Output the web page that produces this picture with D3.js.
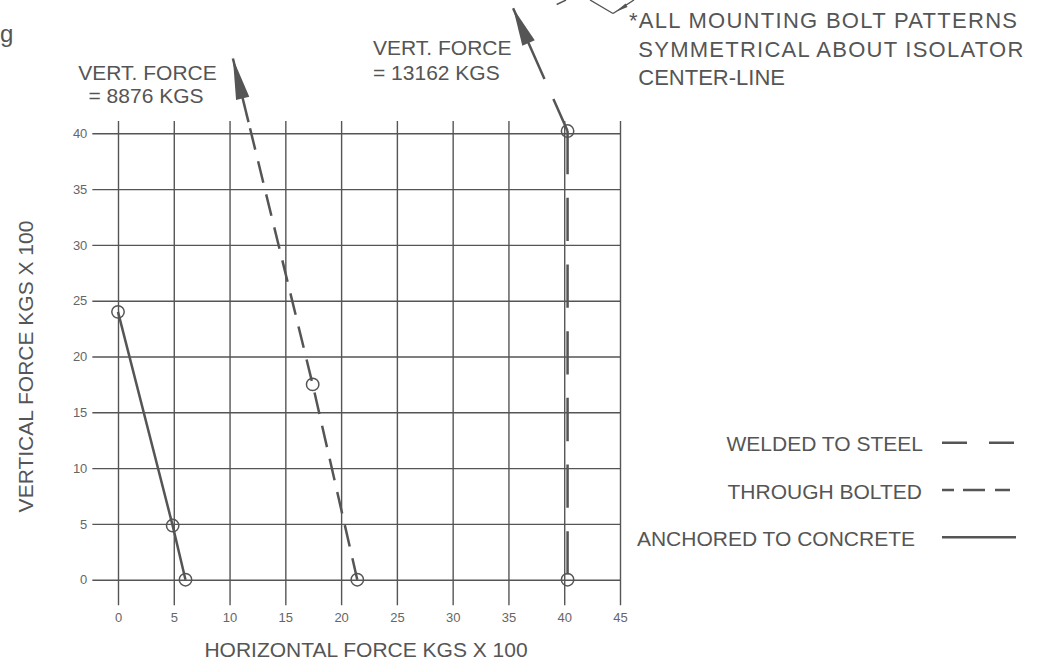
<!DOCTYPE html>
<html>
<head>
<meta charset="utf-8">
<script src="https://cdn.jsdelivr.net/npm/d3@7"></script>
<style>
  html, body { margin: 0; padding: 0; background: #fff; }
  svg { display: block; }
  text { font-family: "Liberation Sans", Arial, Helvetica, sans-serif; fill: #555; }
</style>
</head>
<body>
<svg id="chart" width="1040" height="660"></svg>
<script>
// ---- data ----
const xTicks = [0, 5, 10, 15, 20, 25, 30, 35, 40, 45];
const yTicks = [0, 5, 10, 15, 20, 25, 30, 35, 40];

// Anchored to concrete (solid)
const concreteX = [0, 4.9, 6.05];
const concreteY = [24, 4.85, 0];
// Through bolted (short dashes)
const boltedX = [21.45, 17.45];
const boltedY = [0, 17.5];
const boltedArrowStart = [11.7, 41.0];
const boltedArrowTip = [10.3, 46.7];
// Welded to steel (long dashes)
const weldedX = [40.3, 40.3];
const weldedY = [40.2, 0];
const weldedArrowTip = [35.42, 51.2];

const legendLabels = ["WELDED TO STEEL", "THROUGH BOLTED", "ANCHORED TO CONCRETE"];
const forceLabelsLeft = ["VERT. FORCE", "= 8876 KGS"];
const forceLabelsRight = ["VERT. FORCE", "= 13162 KGS"];
const noteLines = ["*ALL MOUNTING BOLT PATTERNS", "SYMMETRICAL ABOUT ISOLATOR", "CENTER-LINE"];

// ---- drawing ----
const svg = d3.select("#chart");
const ink = "#555";

const x = d3.scaleLinear().domain([0, 45]).range([118, 620]);
const y = d3.scaleLinear().domain([0, 40]).range([579.7, 133.3]);

const gridTop = y(41.1), gridBottom = y(-2.28), gridLeft = x(-2.3);

// horizontal grid + y labels
const yAxis = d3.axisLeft(y).tickValues(yTicks).tickSize(x(45) - gridLeft).tickPadding(5);
const gy = svg.append("g").attr("transform", `translate(${x(45)},0)`).call(yAxis);
gy.select(".domain").remove();
gy.selectAll("line").attr("stroke", ink).attr("stroke-width", 1.4);
gy.selectAll("text").style("font-size", "13px").style("fill", "#666").style("font-family", "Liberation Sans, Arial, sans-serif");

// vertical grid + x labels
const xAxis = d3.axisBottom(x).tickValues(xTicks).tickSizeInner(-(gridBottom - gridTop)).tickSizeOuter(0).tickPadding(7.5);
const gx = svg.append("g").attr("transform", `translate(0,${gridBottom})`).call(xAxis);
gx.select(".domain").remove();
gx.selectAll("line").attr("stroke", ink).attr("stroke-width", 1.4);
gx.selectAll("text").style("font-size", "13px").style("fill", "#666").style("font-family", "Liberation Sans, Arial, sans-serif");

const line = d3.line().x(d => x(d[0])).y(d => y(d[1]));

// Anchored to concrete
const concretePts = concreteX.map((v, i) => [v, concreteY[i]]);
svg.append("path").attr("d", line(concretePts)).attr("fill", "none")
  .attr("stroke", ink).attr("stroke-width", 2.5);

// Through bolted
const boltedPts = boltedX.map((v, i) => [v, boltedY[i]]).concat([boltedArrowStart]);
svg.append("path").attr("d", line(boltedPts)).attr("fill", "none")
  .attr("stroke", ink).attr("stroke-width", 2.5).attr("stroke-dasharray", "22,12");
svg.append("path").attr("d", line([boltedArrowStart, boltedArrowTip])).attr("fill", "none")
  .attr("stroke", ink).attr("stroke-width", 2.5);

// Welded to steel
const weldedPts = weldedX.map((v, i) => [v, weldedY[i]]);
svg.append("path").attr("d", line(weldedPts)).attr("fill", "none")
  .attr("stroke", ink).attr("stroke-width", 2.5).attr("stroke-dasharray", "43.3,23.4");
svg.append("path").attr("d", line([weldedPts[0], weldedArrowTip])).attr("fill", "none")
  .attr("stroke", ink).attr("stroke-width", 2.5).attr("stroke-dasharray", "35,22,1000");

// arrow heads
function arrowHead(from, tip, len, half) {
  const x1 = x(from[0]), y1 = y(from[1]), x2 = x(tip[0]), y2 = y(tip[1]);
  const dx = x2 - x1, dy = y2 - y1, L = Math.hypot(dx, dy);
  const ux = dx / L, uy = dy / L;
  const bx = x2 - ux * len, by = y2 - uy * len;
  const pts = [[x2, y2], [bx - uy * half, by + ux * half], [bx + uy * half, by - ux * half]];
  svg.append("polygon").attr("points", pts.map(p => p.join(",")).join(" ")).attr("fill", ink);
}
arrowHead(boltedArrowStart, boltedArrowTip, 41, 6.8);
arrowHead(weldedPts[0], weldedArrowTip, 38, 6.8);

// point markers
const allPts = concretePts.concat(boltedX.map((v, i) => [v, boltedY[i]]), weldedPts);
svg.selectAll("circle.pt").data(allPts).enter().append("circle")
  .attr("class", "pt").attr("cx", d => x(d[0])).attr("cy", d => y(d[1])).attr("r", 6.2)
  .attr("fill", "none").attr("stroke", ink).attr("stroke-width", 1.5);

// axis titles
svg.append("text").attr("x", 366).attr("y", 657).attr("text-anchor", "middle")
  .style("font-size", "21px").text("HORIZONTAL FORCE KGS X 100");
svg.append("text").attr("transform", "translate(33,366.5) rotate(-90)").attr("text-anchor", "middle")
  .style("font-size", "21px").text("VERTICAL FORCE KGS X 100");

// force labels
svg.append("text").attr("x", 147.5).attr("y", 80).attr("text-anchor", "middle").style("font-size", "21px").text(forceLabelsLeft[0]);
svg.append("text").attr("x", 146).attr("y", 103.3).attr("text-anchor", "middle").style("font-size", "21px").text(forceLabelsLeft[1]);
svg.append("text").attr("x", 373).attr("y", 55).style("font-size", "21px").text(forceLabelsRight[0]);
svg.append("text").attr("x", 373).attr("y", 80).style("font-size", "21px").text(forceLabelsRight[1]);

// note
const noteX = [629, 638.3, 638.3];
const noteYs = [28.3, 56.7, 85];
const noteLen = [388, 385, null];
noteLines.forEach((t, i) => {
  const tx = svg.append("text").attr("x", noteX[i]).attr("y", noteYs[i]).style("font-size", "22px").text(t);
  if (noteLen[i]) tx.attr("textLength", noteLen[i]).attr("lengthAdjust", "spacing");
});

// leader lines at top
svg.append("path").attr("d", "M556.7,4.5 L566,0").attr("stroke", ink).attr("stroke-width", 1.4).attr("fill", "none");
svg.append("path").attr("d", "M590,0 L613,13.5 M613,13.5 L634,0").attr("stroke", ink).attr("stroke-width", 1.4).attr("fill", "none");
svg.append("polygon").attr("points", "615.5,12 625.5,3.5 627.5,7").attr("fill", ink);

// partial word at top-left
svg.append("text").attr("x", 0).attr("y", 42).style("font-size", "24px").text("g");

// legend
const legendY = [442.7, 490, 537.3];
const legendTextX = [923, 922, 915];
const legendDash = ["25,22", "12,9,22,10,15", null];
legendLabels.forEach((t, i) => {
  svg.append("text").attr("x", legendTextX[i]).attr("y", legendY[i] + 8.5).attr("text-anchor", "end")
    .style("font-size", "21px").text(t);
  const p = svg.append("line").attr("x1", 942).attr("x2", 1016).attr("y1", legendY[i]).attr("y2", legendY[i])
    .attr("stroke", ink).attr("stroke-width", 2.5);
  if (legendDash[i]) p.attr("stroke-dasharray", legendDash[i]);
});
</script>
</body>
</html>
